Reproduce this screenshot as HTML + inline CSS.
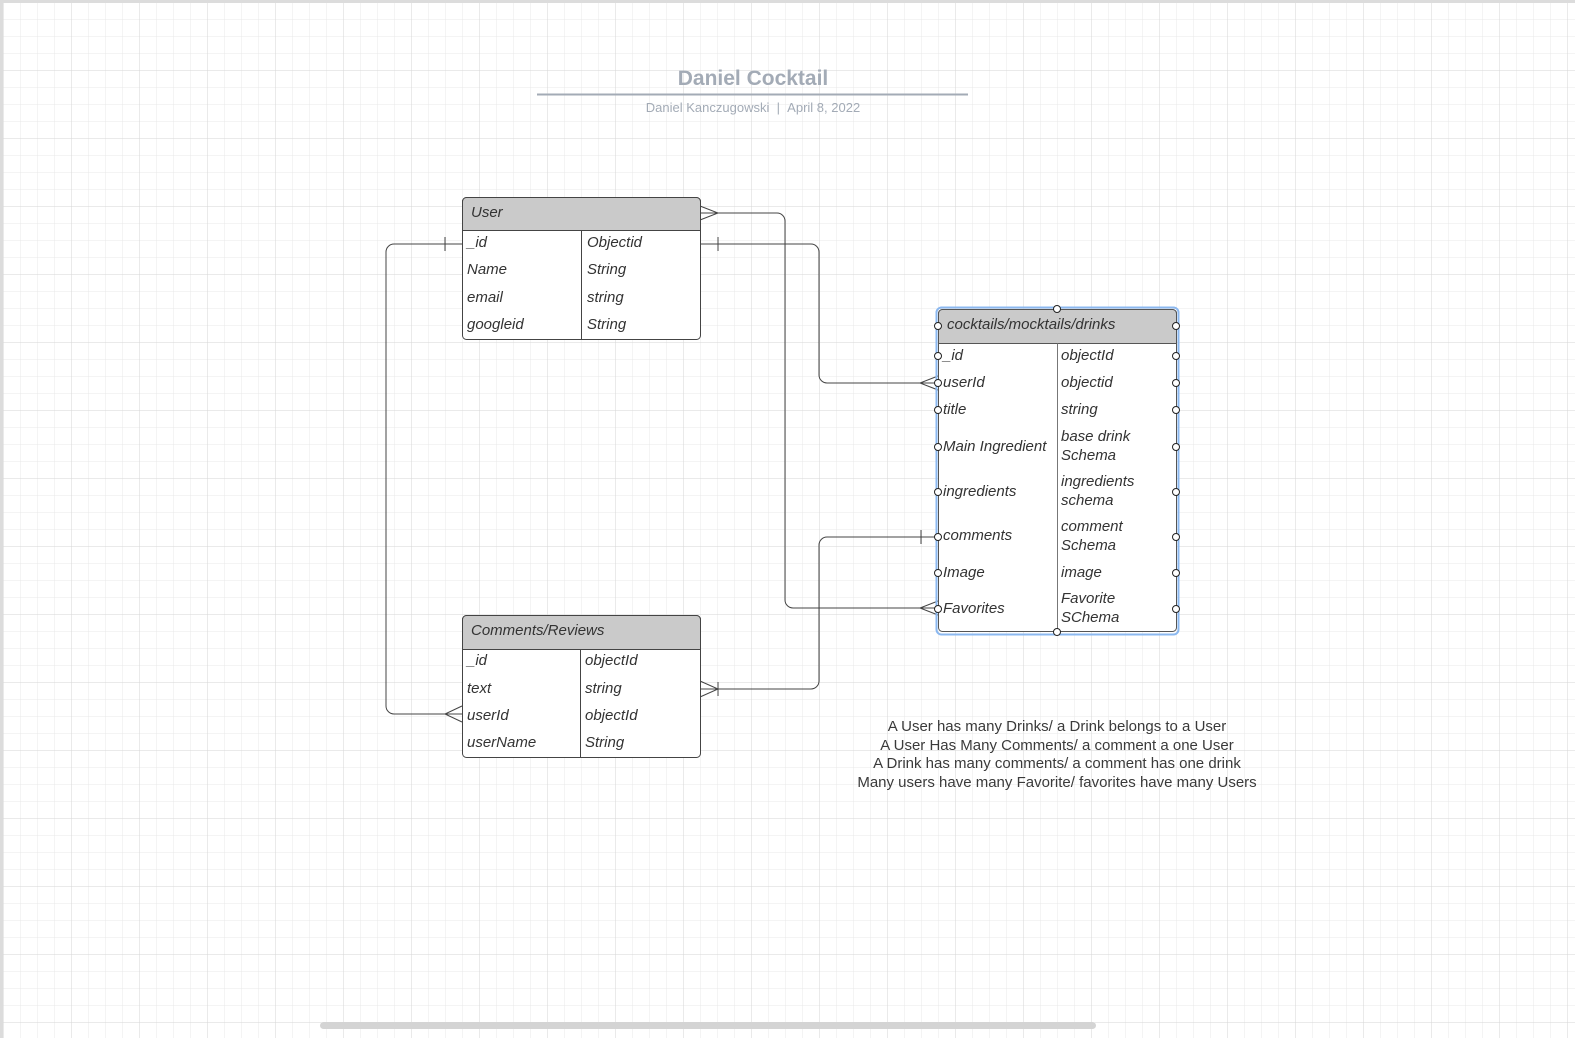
<!DOCTYPE html>
<html><head><meta charset="utf-8"><style>
html,body{margin:0;padding:0;width:1575px;height:1038px;overflow:hidden;background:#fff}
svg{display:block}
text{font-family:"Liberation Sans",sans-serif}
.f{font-size:15px;font-style:italic;fill:#333}
.n{font-size:15px;fill:#3a3a3a}
</style></head><body>
<svg width="1575" height="1038" viewBox="0 0 1575 1038" xmlns="http://www.w3.org/2000/svg">
<defs>
<pattern id="mi" x="3.5" y="2.5" width="17" height="17" patternUnits="userSpaceOnUse">
<path d="M0 0V17M0 0H17" stroke="#e8e8e8" stroke-width="1" fill="none"/></pattern>
<pattern id="ma" x="3.5" y="2.5" width="68" height="68" patternUnits="userSpaceOnUse">
<path d="M0 0V68M0 0H68" stroke="#d6d6d6" stroke-width="1" fill="none"/></pattern>
</defs>
<rect width="1575" height="1038" fill="#fff"/>
<rect width="1575" height="1038" fill="url(#mi)"/>
<rect width="1575" height="1038" fill="url(#ma)"/>
<rect x="0" y="0" width="3" height="1038" fill="#dcdcdc"/>
<rect x="0" y="0" width="1575" height="3" fill="#dcdcdc"/>
<rect x="320" y="1022" width="776" height="7" rx="3.5" fill="#d4d4d4"/>

<!-- title -->
<text x="753" y="85" text-anchor="middle" font-size="21" font-weight="bold" fill="#a3abb6">Daniel Cocktail</text>
<line x1="537" y1="94.5" x2="968" y2="94.5" stroke="#a3abb6" stroke-width="2"/>
<text x="753" y="112" text-anchor="middle" font-size="13" fill="#a3abb6">Daniel Kanczugowski&#160;&#160;|&#160;&#160;April 8, 2022</text>

<!-- connectors -->
<g stroke="#444" stroke-width="1" fill="none">
<path d="M700 213H777a8 8 0 0 1 8 8V600a8 8 0 0 0 8 8H938"/>
<path d="M700 213L718 213M700 206L718 213L700 220"/>
<path d="M938 601L920 608L938 615"/>
<path d="M700 244H811a8 8 0 0 1 8 8V375a8 8 0 0 0 8 8H938"/>
<path d="M718 237V251"/>
<path d="M938 376L920 383L938 390"/>
<path d="M462 244H394a8 8 0 0 0 -8 8V706a8 8 0 0 0 8 8H462"/>
<path d="M445 237V251"/>
<path d="M462 706L445 714L462 722"/>
<path d="M938 537H827a8 8 0 0 0 -8 8V681a8 8 0 0 1 -8 8H700"/>
<path d="M921 530V544"/>
<path d="M700 681L718 689L700 697M718 682V696"/>
</g>

<!-- User table -->
<rect x="462.5" y="197.5" width="238" height="142" rx="4" fill="#fff" stroke="#444"/>
<path d="M462.5 230.5V201.5a4 4 0 0 1 4-4H696.5a4 4 0 0 1 4 4V230.5Z" fill="#cacaca" stroke="#444"/>
<line x1="581.5" y1="230.5" x2="581.5" y2="339.5" stroke="#444"/>
<text class="f" x="471" y="217">User</text>
<text class="f" x="467" y="247">_id</text><text class="f" x="587" y="247">Objectid</text>
<text class="f" x="467" y="274">Name</text><text class="f" x="587" y="274">String</text>
<text class="f" x="467" y="302">email</text><text class="f" x="587" y="302">string</text>
<text class="f" x="467" y="329">googleid</text><text class="f" x="587" y="329">String</text>

<!-- Comments table -->
<rect x="462.5" y="615.5" width="238" height="142" rx="4" fill="#fff" stroke="#444"/>
<path d="M462.5 649.5V619.5a4 4 0 0 1 4-4H696.5a4 4 0 0 1 4 4V649.5Z" fill="#cacaca" stroke="#444"/>
<line x1="580.5" y1="649.5" x2="580.5" y2="757.5" stroke="#444"/>
<text class="f" x="471" y="635">Comments/Reviews</text>
<text class="f" x="467" y="665">_id</text><text class="f" x="585" y="665">objectId</text>
<text class="f" x="467" y="693">text</text><text class="f" x="585" y="693">string</text>
<text class="f" x="467" y="720">userId</text><text class="f" x="585" y="720">objectId</text>
<text class="f" x="467" y="747">userName</text><text class="f" x="585" y="747">String</text>

<!-- Drinks table -->
<rect x="936.5" y="307.5" width="242" height="327" rx="5" fill="none" stroke="#8bb8f0" stroke-width="2"/>
<rect x="938.5" y="309.5" width="238" height="322" rx="4" fill="#fff" stroke="#555"/>
<path d="M938.5 343.5V313.5a4 4 0 0 1 4-4H1172.5a4 4 0 0 1 4 4V343.5Z" fill="#cacaca" stroke="#555"/>
<line x1="1057.5" y1="343.5" x2="1057.5" y2="631.5" stroke="#777"/>
<text class="f" x="947" y="329">cocktails/mocktails/drinks</text>
<text class="f" x="943" y="360">_id</text><text class="f" x="1061" y="360">objectId</text>
<text class="f" x="943" y="387">userId</text><text class="f" x="1061" y="387">objectid</text>
<text class="f" x="943" y="414">title</text><text class="f" x="1061" y="414">string</text>
<text class="f" x="943" y="451">Main Ingredient</text><text class="f" x="1061" y="441">base drink</text><text class="f" x="1061" y="460">Schema</text>
<text class="f" x="943" y="496">ingredients</text><text class="f" x="1061" y="486">ingredients</text><text class="f" x="1061" y="505">schema</text>
<text class="f" x="943" y="540">comments</text><text class="f" x="1061" y="531">comment</text><text class="f" x="1061" y="550">Schema</text>
<text class="f" x="943" y="577">Image</text><text class="f" x="1061" y="577">image</text>
<text class="f" x="943" y="613">Favorites</text><text class="f" x="1061" y="603">Favorite</text><text class="f" x="1061" y="622">SChema</text>
<g fill="#fff" stroke="#222" stroke-width="1">
<circle cx="1057" cy="309" r="3.5"/><circle cx="1057" cy="632" r="3.5"/>
<circle cx="938" cy="326" r="3.5"/><circle cx="1176" cy="326" r="3.5"/>
<circle cx="938" cy="356" r="3.5"/><circle cx="1176" cy="356" r="3.5"/>
<circle cx="938" cy="383" r="3.5"/><circle cx="1176" cy="383" r="3.5"/>
<circle cx="938" cy="410" r="3.5"/><circle cx="1176" cy="410" r="3.5"/>
<circle cx="938" cy="447" r="3.5"/><circle cx="1176" cy="447" r="3.5"/>
<circle cx="938" cy="492" r="3.5"/><circle cx="1176" cy="492" r="3.5"/>
<circle cx="938" cy="537" r="3.5"/><circle cx="1176" cy="537" r="3.5"/>
<circle cx="938" cy="573" r="3.5"/><circle cx="1176" cy="573" r="3.5"/>
<circle cx="938" cy="609" r="3.5"/><circle cx="1176" cy="609" r="3.5"/>
</g>

<!-- notes -->
<text class="n" x="1057" y="731" text-anchor="middle">A User has many Drinks/ a Drink belongs to a User</text>
<text class="n" x="1057" y="750" text-anchor="middle">A User Has Many Comments/ a comment a one User</text>
<text class="n" x="1057" y="768" text-anchor="middle">A Drink has many comments/ a comment has one drink</text>
<text class="n" x="1057" y="787" text-anchor="middle">Many users have many Favorite/ favorites have many Users</text>
</svg>
</body></html>
